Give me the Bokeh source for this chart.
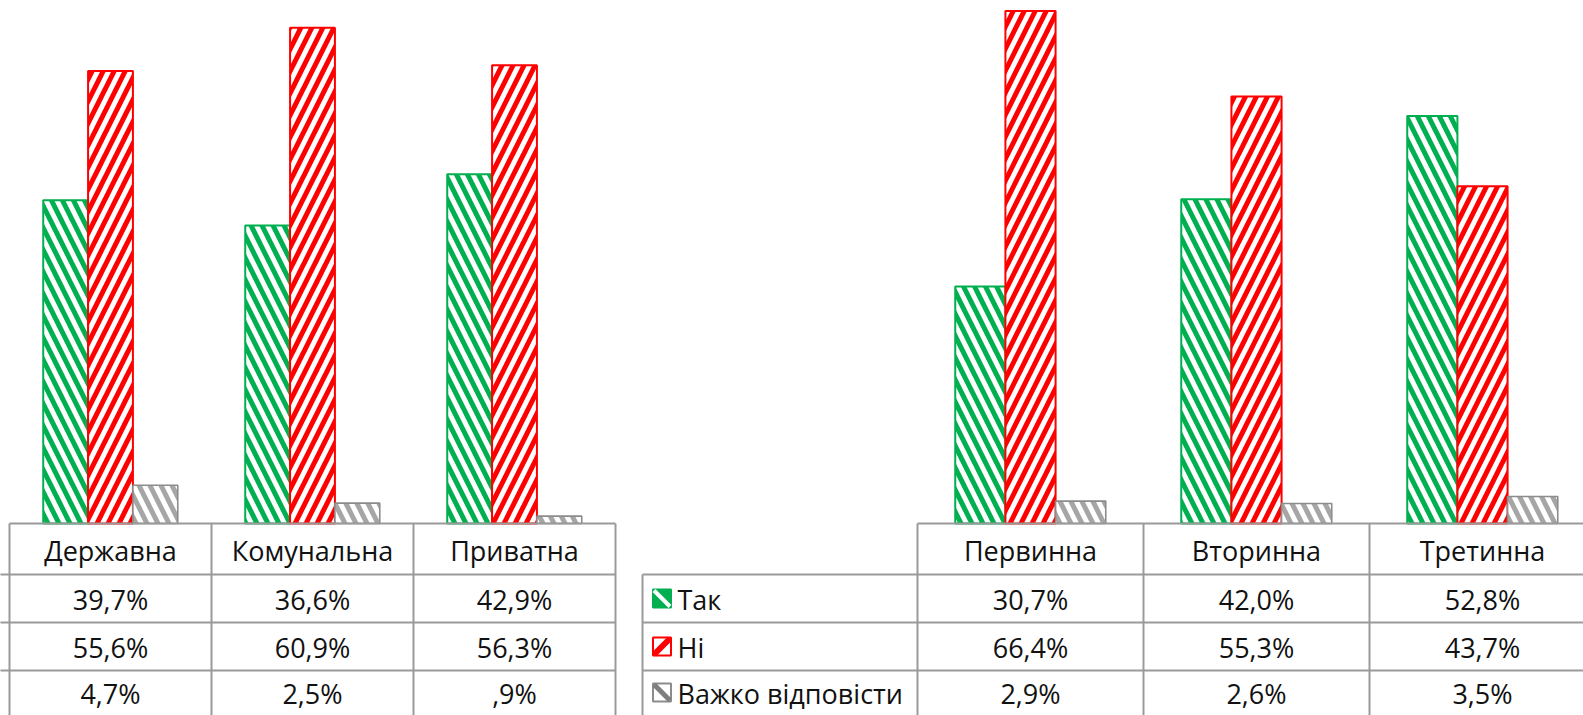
from bokeh.plotting import figure
from bokeh.models import Range1d
from bokeh.core.properties import value
from bokeh.embed import file_html
from bokeh.resources import INLINE

# ---- data ----
series = ["Так", "Ні", "Важко відповісти"]
left_cats = ["Державна", "Комунальна", "Приватна"]
left_tak = [39.7, 36.6, 42.9]
left_ni = [55.6, 60.9, 56.3]
left_vazhko = [4.7, 2.5, 0.9]
right_cats = ["Первинна", "Вторинна", "Третинна"]
right_tak = [30.7, 42.0, 52.8]
right_ni = [66.4, 55.3, 43.7]
right_vazhko = [2.9, 2.6, 3.5]

# ---- styles ----
colors = ["#00B050", "#FF0000", "#8C8C8C"]
hatch_colors = ["#00B050", "#FF0000", "#A6A6A6"]
patterns = ["left_diagonal_line", "right_diagonal_line", "left_diagonal_line"]
FONT = value("Open Sans")
FS = "27px"
GRID = "#9A9A9A"

W, H = 1583, 715
TOP, BOT = 0, 715          # pixel y of plot top/bottom
BASE = 523                 # baseline pixel
kL, kR = 8.14, 7.72        # px per percent

def fmt(v):
    s = f"{v:.1f}".replace(".", ",")
    if s.startswith("0,"):
        s = s[1:]
    return s + "%"

yL_top = (BASE - TOP) / kL
yR_top = (BASE - TOP) / kR
p = figure(width=W, height=H, output_backend="svg", toolbar_location=None,
           x_range=Range1d(0, W),
           y_range=Range1d(yL_top - (BOT - TOP) / kL, yL_top),
           x_axis_location=None, y_axis_location=None, min_border=0)
p.extra_y_ranges = {"right": Range1d(yR_top - (BOT - TOP) / kR, yR_top),
                    "tbl": Range1d(BOT, TOP)}
p.outline_line_color = None
p.xgrid.visible = False
p.ygrid.visible = False
p.background_fill_color = "white"

panels = [
    dict(cats=left_cats, vals=[left_tak, left_ni, left_vazhko], x0=9, cw=202,
         rng="default", leg_x0=-300, leg=False),
    dict(cats=right_cats, vals=[right_tak, right_ni, right_vazhko], x0=917, cw=226,
         rng="right", leg_x0=642, leg=True),
]

row_y = [BASE, 574, 622, 670, 718]

for pn in panels:
    n = len(pn["cats"])
    cw, x0 = pn["cw"], pn["x0"]
    bw = cw * 0.222
    for j, vals in enumerate(pn["vals"]):
        xs = [x0 + (i + 0.5) * cw + (j - 1) * bw for i in range(n)]
        kw = {} if pn["rng"] == "default" else {"y_range_name": "right"}
        p.vbar(x=xs, top=vals, bottom=0, width=bw, fill_color="white",
               line_color=colors[j], line_width=2 if j < 2 else 1.6,
               hatch_pattern=patterns[j], hatch_color=hatch_colors[j],
               hatch_scale=22, hatch_weight=5, **kw)
    # table grid
    xr = x0 + n * cw
    p.segment(x0=[x0], y0=[BASE], x1=[xr], y1=[BASE], y_range_name="tbl",
              line_color=GRID, line_width=2)
    p.segment(x0=[pn["leg_x0"]] * 4, y0=row_y[1:], x1=[xr] * 4, y1=row_y[1:],
              y_range_name="tbl", line_color=GRID, line_width=2)
    vx = [x0 + i * cw for i in range(n + 1)]
    p.segment(x0=vx, y0=[BASE] * len(vx), x1=vx, y1=[BOT + 5] * len(vx),
              y_range_name="tbl", line_color=GRID, line_width=2)
    p.segment(x0=[pn["leg_x0"]], y0=[row_y[1]], x1=[pn["leg_x0"]], y1=[BOT + 5],
              y_range_name="tbl", line_color=GRID, line_width=2)
    # header texts
    cx = [x0 + (i + 0.5) * cw for i in range(n)]
    p.text(x=cx, y=[(row_y[0] + row_y[1]) / 2 + 1] * n, text=pn["cats"],
           y_range_name="tbl", text_font=FONT, text_font_size=FS,
           text_align="center", text_baseline="middle", text_color="#111111")
    for j, vals in enumerate(pn["vals"]):
        yc = (row_y[j + 1] + row_y[j + 2]) / 2 + 1 if j < 2 else 693
        p.text(x=cx, y=[yc] * n, text=[fmt(v) for v in vals],
               y_range_name="tbl", text_font=FONT, text_font_size=FS,
               text_align="center", text_baseline="middle", text_color="#111111")
        if pn["leg"]:
            lx = pn["leg_x0"]
            mx, my = lx + 19.5, yc - 1
            p.rect(x=[mx], y=[my], width=18, height=18,
                   width_units="screen", height_units="screen", y_range_name="tbl",
                   fill_color=colors[0] if j == 0 else "white",
                   line_color=colors[j], line_width=2)
            if j == 1:
                p.segment(x0=[mx - 8], y0=[my + 8], x1=[mx + 8], y1=[my - 8],
                          y_range_name="tbl", line_color=colors[1], line_width=6)
            else:
                p.segment(x0=[mx - 8], y0=[my - 8], x1=[mx + 8], y1=[my + 8],
                          y_range_name="tbl",
                          line_color="white" if j == 0 else "#7F7F7F",
                          line_width=4 if j == 0 else 5)
            p.text(x=[lx + 35], y=[yc], text=[series[j]], y_range_name="tbl",
                   text_font=FONT, text_font_size=FS, text_align="left",
                   text_baseline="middle", text_color="#111111")

open("out.html", "w").write(file_html(p, INLINE))
